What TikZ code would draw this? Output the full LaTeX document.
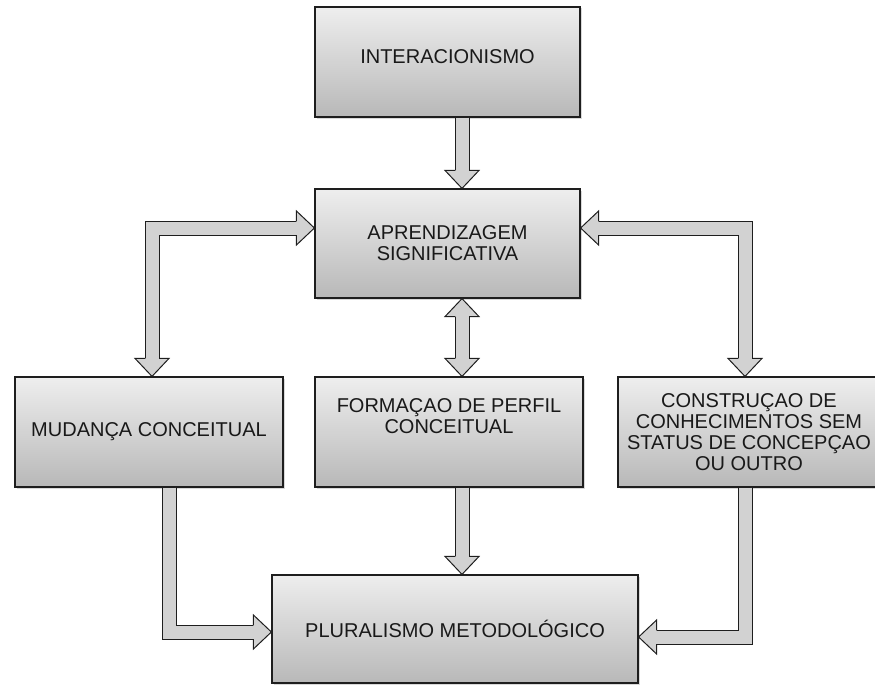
\documentclass[tikz,border=0pt]{standalone}
\usepackage{fontspec}
\setmainfont{Liberation Sans}
\usepackage{tikz}
\usetikzlibrary{calc,shadows}

\definecolor{boxtop}{HTML}{EEEEEE}
\definecolor{boxbottom}{HTML}{B8B8B8}
\definecolor{arrowgray}{HTML}{D2D2D2}
\definecolor{edgegray}{HTML}{1E1E1E}

\tikzset{
    box/.style={rectangle, draw=edgegray, line width=1.2pt, top color=boxtop,
        bottom color=boxbottom, align=center, inner sep=2pt, text=black!90,
        font=\fontsize{20}{21}\selectfont,
        drop shadow={shadow xshift=1.5pt, shadow yshift=-1.5pt, opacity=0.3}},
    shaft/.style={line width=1pt, draw=edgegray, double=arrowgray,
        double distance=13pt, shorten <=0pt},
    head/.pic={
        \filldraw[fill=arrowgray, draw=edgegray, line width=1pt]
            (-18,-7) -- (-18,-17) -- (0,0) -- (-18,17) -- (-18,7);
    }
}

\begin{document}
\begin{tikzpicture}[x=1pt,y=-1pt]
            \clip (0,0) rectangle (875,685);

            % boxes
            \node[box, minimum width=265, minimum height=110, text depth=10pt] (inter) at (447.5,62) {INTERACIONISMO};
            \node[box, minimum width=265, minimum height=109] (apren) at (447.5,243.5) {APRENDIZAGEM\\SIGNIFICATIVA};
            \node[box, minimum width=268, minimum height=110] (mudanca) at (149,432) {MUDANÇA CONCEITUAL};
            \node[box, minimum width=268, minimum height=110] (formacao) at (449,432) {FORMAÇAO DE PERFIL\\CONCEITUAL\\[10pt]\mbox{}};
            \node[box, minimum width=262, minimum height=110] (constr) at (749,432) {CONSTRUÇAO DE\\CONHECIMENTOS SEM\\STATUS DE CONCEPÇAO\\OU OUTRO};
            \node[box, minimum width=366, minimum height=108] (plural) at (455,629) {PLURALISMO METODOLÓGICO};

            % bends of the arrows
            \coordinate (mid) at (462,0);
            \coordinate (lc) at (152,228);
            \coordinate (rc) at (745,228);
            \coordinate (lb) at (169,632);
            \coordinate (rb) at (745,637);

            % shafts
            \draw[shaft, shorten >=17.5pt] (mid |- inter.south) -- (mid |- apren.north);
            \draw[shaft, shorten <=17.5pt, shorten >=17.5pt] (mid |- apren.south) -- (mid |- formacao.north);
            \draw[shaft, shorten <=17.5pt, shorten >=17.5pt] (lc -| apren.west) -- (lc) -- (lc |- mudanca.north);
            \draw[shaft, shorten <=17.5pt, shorten >=17.5pt] (rc -| apren.east) -- (rc) -- (rc |- constr.north);
            \draw[shaft, shorten >=17.5pt] (lb |- mudanca.south) -- (lb) -- (lb -| plural.west);
            \draw[shaft, shorten >=17.5pt] (mid |- formacao.south) -- (mid |- plural.north);
            \draw[shaft, shorten >=17.5pt] (rb |- constr.south) -- (rb) -- (rb -| plural.east);

            % heads
            \pic[rotate=-90] at (mid |- apren.north) {head};
            \pic[rotate=90] at (mid |- apren.south) {head};
            \pic[rotate=-90] at (mid |- formacao.north) {head};
            \pic at (lc -| apren.west) {head};
            \pic[rotate=-90] at (lc |- mudanca.north) {head};
            \pic[rotate=180] at (rc -| apren.east) {head};
            \pic[rotate=-90] at (rc |- constr.north) {head};
            \pic at (lb -| plural.west) {head};
            \pic[rotate=-90] at (mid |- plural.north) {head};
            \pic[rotate=180] at (rb -| plural.east) {head};
        \end{tikzpicture}
\end{document}
